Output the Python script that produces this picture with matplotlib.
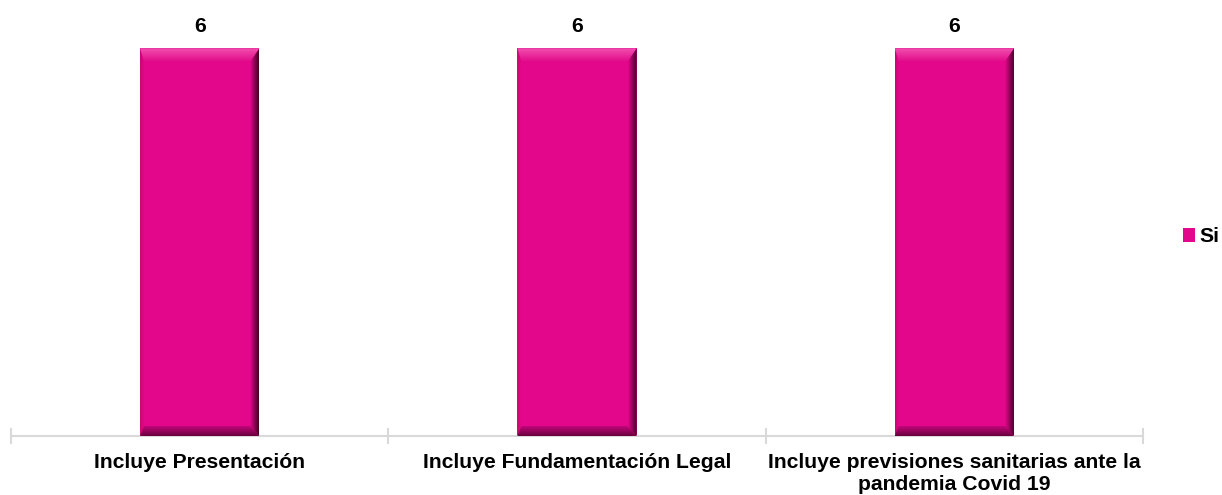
import numpy as np
import matplotlib.pyplot as plt
from matplotlib.patches import Polygon
from matplotlib.colors import LinearSegmentedColormap

plt.rcParams["font.family"] = ["Liberation Sans", "DejaVu Sans"]

# data
categories = [
    "Incluye Presentación",
    "Incluye Fundamentación Legal",
    "Incluye previsiones sanitarias ante la\npandemia Covid 19",
]
si_values = [6, 6, 6]
series_name = "Si"

BASE = "#E3078B"
AXIS_GRAY = "#D9D9D9"
FS = 15.2

fig = plt.figure(figsize=(12.22, 4.95), dpi=100)
ax = fig.add_axes([11 / 1222, 59 / 495, 1132 / 1222, 420 / 495])

x = np.arange(len(categories))
bars = ax.bar(x, si_values, width=0.316, color=BASE, edgecolor="none",
              label=series_name, zorder=2)

ax.set_xlim(-0.5, len(categories) - 0.5)
ax.set_ylim(0, 6.5)

# bevel effect, sizes given in pixels and converted to data units
W_PX = 1132
H_PX = 420
px_x = (ax.get_xlim()[1] - ax.get_xlim()[0]) / W_PX
px_y = (ax.get_ylim()[1] - ax.get_ylim()[0]) / H_PX


def shade(poly, c0, c1, direction):
    patch = Polygon(poly, closed=True, facecolor="none", edgecolor="none")
    ax.add_patch(patch)
    xs = [p[0] for p in poly]
    ys = [p[1] for p in poly]
    cmap = LinearSegmentedColormap.from_list("b", [c0, c1])
    if direction == "v":
        grad = np.linspace(0, 1, 64).reshape(-1, 1)
    else:
        grad = np.linspace(0, 1, 64).reshape(1, -1)
    im = ax.imshow(grad, cmap=cmap, aspect="auto", origin="lower",
                   extent=[min(xs), max(xs), min(ys), max(ys)], zorder=3,
                   interpolation="bilinear")
    im.set_clip_path(patch)


for b in bars:
    x0, x1 = b.get_x(), b.get_x() + b.get_width()
    y0, y1 = 0, b.get_height()
    bt = 13 * px_y  # top bevel
    bb = 10 * px_y  # bottom bevel
    bl = 4 * px_x   # left bevel
    br = 9 * px_x   # right bevel
    # left
    shade([(x0, y0), (x0 + bl, y0 + bb), (x0 + bl, y1 - bt), (x0, y1)],
          "#C8066F", BASE, "h")
    # right
    shade([(x1, y0), (x1, y1), (x1 - br, y1 - bt), (x1 - br, y0 + bb)],
          BASE, "#3E0022", "h")
    # top
    shade([(x0, y1), (x1, y1), (x1 - br, y1 - bt), (x0 + bl, y1 - bt)],
          "#E30E8D", "#F150AE", "v")
    # bottom
    shade([(x0, y0), (x1, y0), (x1 - br, y0 + bb), (x0 + bl, y0 + bb)],
          "#6A003D", "#C2067A", "v")
    ax.text(b.get_x() + b.get_width() / 2, b.get_height() + 12 * px_y,
            str(int(b.get_height())), ha="center", va="bottom",
            fontsize=FS, fontweight="bold", clip_on=False)

# axes styling
for s in ["top", "right", "left"]:
    ax.spines[s].set_visible(False)
ax.spines["bottom"].set_color(AXIS_GRAY)
ax.spines["bottom"].set_linewidth(1.5)
ax.set_yticks([])

ax.set_xticks(x)
ax.set_xticklabels(categories, fontsize=FS, fontweight="bold", linespacing=1.2)
ax.tick_params(axis="x", which="major", length=0, pad=12)
ax.set_xticks(np.arange(-0.5, len(categories), 1), minor=True)
ax.tick_params(axis="x", which="minor", direction="inout", length=11,
               width=1.5, color=AXIS_GRAY)

leg = ax.legend(loc="center left", bbox_to_anchor=(1164 / 1132 - 11 / 1132, 0.5 - 11 / 420),
                frameon=False, handlelength=0.58, handleheight=0.58,
                handletextpad=0.2, prop={"size": FS, "weight": "bold"})

fig.savefig("out.png", dpi=100)
